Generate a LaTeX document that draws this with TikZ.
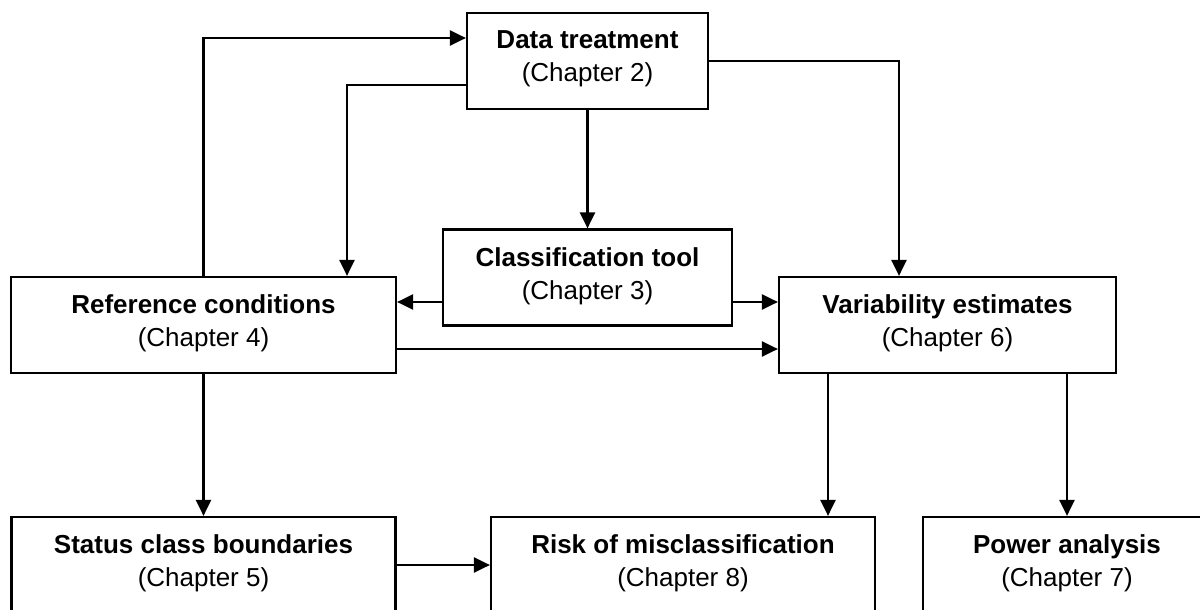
\documentclass[tikz,border=0pt]{standalone}
\usepackage{fontspec}
\setmainfont{Liberation Sans}
\usetikzlibrary{arrows.meta,calc,positioning}
\tikzset{
  every node/.style={font=\fontsize{13}{16.5}\selectfont},
  box/.style={draw, line width=1.1pt, minimum height=48pt, inner sep=0pt},
  boxtext/.style={align=center, inner sep=0pt},
  arr/.style={-{Triangle[length=8pt,width=7.5pt]}, line width=1.2pt},
}

\begin{document}
\begin{tikzpicture}[x=0.5pt,y=-0.5pt]
  \useasboundingbox (0,0) rectangle (1200,610);
  \clip (0,0) rectangle (1200,610);
  % Boxes: name / centre x / centre y / width / title / chapter
  \foreach \n/\x/\y/\w/\t/\c in {
      dt/587.5/61/120.5/Data treatment/2,
      cls/587.5/277.5/144.5/Classification tool/3,
      ref/203.5/325/192.5/Reference conditions/4,
      var/947.5/325/168.5/Variability estimates/6,
      stat/203.5/565/192/Status class boundaries/5,
      risk/683/565/192/Risk of misclassification/8,
      pow/1067/565/144/Power analysis/7} {
    \node[box, minimum width=\w pt] (\n) at (\x,\y) {};
    \node[boxtext, below=9.3pt of \n.north] (\n-t) {\textbf{\t}\\(Chapter \c)};
  }
  % Data treatment links
  \draw[arr] (ref.north) |- ($(dt.west)+(0,-23)$);
  \draw[arr] ($(dt.west)+(0,24)$) -| ($(ref.north)+(143.5,0)$);
  \draw[arr] (dt.south) -- (cls.north);
  \draw[arr] (dt.east) -| ($(var.north)+(-48.5,0)$);
  % Middle row
  \draw[arr] ($(cls.west)+(0,24.5)$) -- ($(ref.east)+(0,-23)$);
  \draw[arr] ($(cls.east)+(0,24.5)$) -- ($(var.west)+(0,-23)$);
  \draw[arr] ($(ref.east)+(0,24)$) -- ($(var.west)+(0,24)$);
  % Down to the bottom row
  \draw[arr] (ref.south) -- (stat.north);
  \draw[arr] ($(var.south)+(-119.5,0)$) coordinate (v1) -- (v1 |- risk.north);
  \draw[arr] (pow.north |- var.south) -- (pow.north);
  \draw[arr] (stat.east) -- (risk.west);
\end{tikzpicture}
\end{document}
